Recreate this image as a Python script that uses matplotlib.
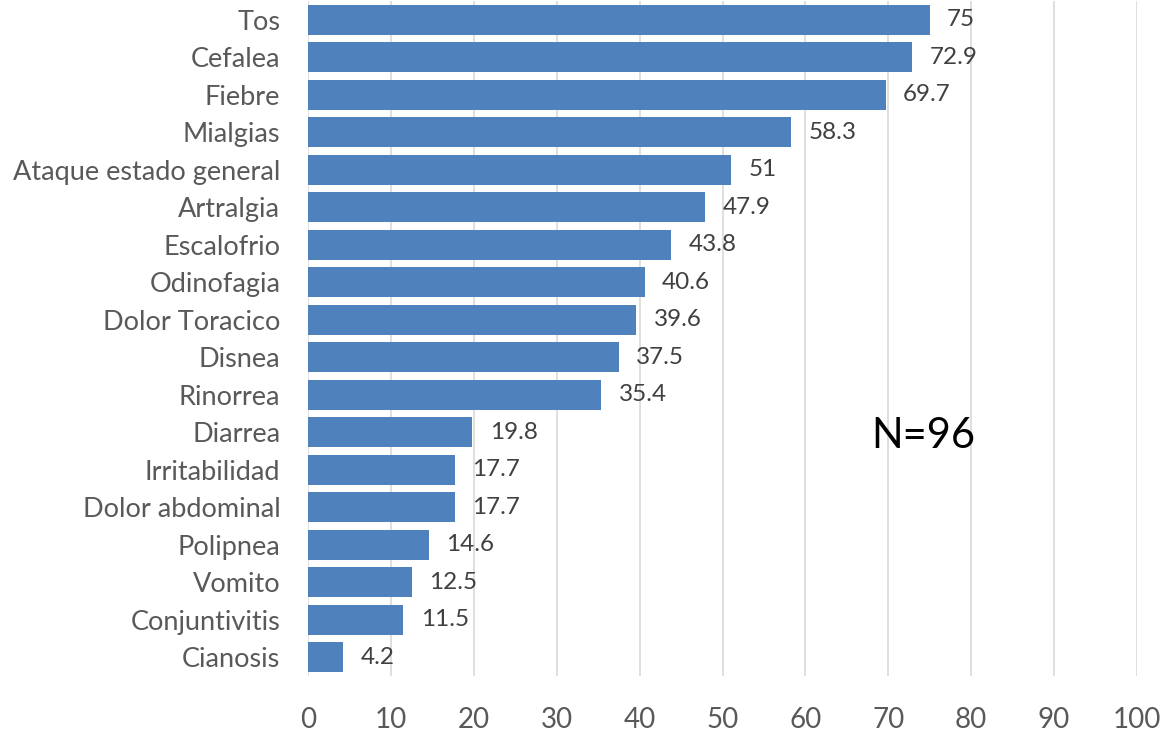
import matplotlib.pyplot as plt

sintomas = ["Tos", "Cefalea", "Fiebre", "Mialgias", "Ataque estado general",
            "Artralgia", "Escalofrio", "Odinofagia", "Dolor Toracico", "Disnea",
            "Rinorrea", "Diarrea", "Irritabilidad", "Dolor abdominal",
            "Polipnea", "Vomito", "Conjuntivitis", "Cianosis"]
porcentaje = [75, 72.9, 69.7, 58.3, 51, 47.9, 43.8, 40.6, 39.6, 37.5,
              35.4, 19.8, 17.7, 17.7, 14.6, 12.5, 11.5, 4.2]
etiquetas = ["75", "72.9", "69.7", "58.3", "51", "47.9", "43.8", "40.6", "39.6",
             "37.5", "35.4", "19.8", "17.7", "17.7", "14.6", "12.5", "11.5", "4.2"]
xticks = [0, 10, 20, 30, 40, 50, 60, 70, 80, 90, 100]

plt.rcParams['font.family'] = ['Lato', 'DejaVu Sans']

fig = plt.figure(figsize=(11.66, 7.31), dpi=100)
ax = fig.add_axes([0.2642, 0.0752, 0.7109, 0.9234])

ypos = list(range(len(sintomas)))
ax.barh(ypos, porcentaje, height=0.8, color="#4F81BD", zorder=3)
for y, v, t in zip(ypos, porcentaje, etiquetas):
    ax.text(v + 2.1, y, t, va="center", ha="left", fontsize=17.5, color="#404040")

ax.set_ylim(len(sintomas) - 0.5, -0.5)
ax.set_xlim(0, 100)
ax.set_yticks(ypos)
ax.set_yticklabels(sintomas, fontsize=19.5, color="#595959")
ax.set_xticks(xticks)
ax.set_xticklabels([str(x) for x in xticks], fontsize=20, color="#595959")
ax.tick_params(axis="y", length=0, pad=20)
ax.tick_params(axis="x", length=0, pad=22)
ax.grid(axis="x", color="#D9D9D9", linewidth=1.2, zorder=0)
for s in ax.spines.values():
    s.set_visible(False)

ax.text(74.2, 11.1, "N=96", fontsize=30, color="black", ha="center", va="center")

fig.savefig("out.png", dpi=100)
